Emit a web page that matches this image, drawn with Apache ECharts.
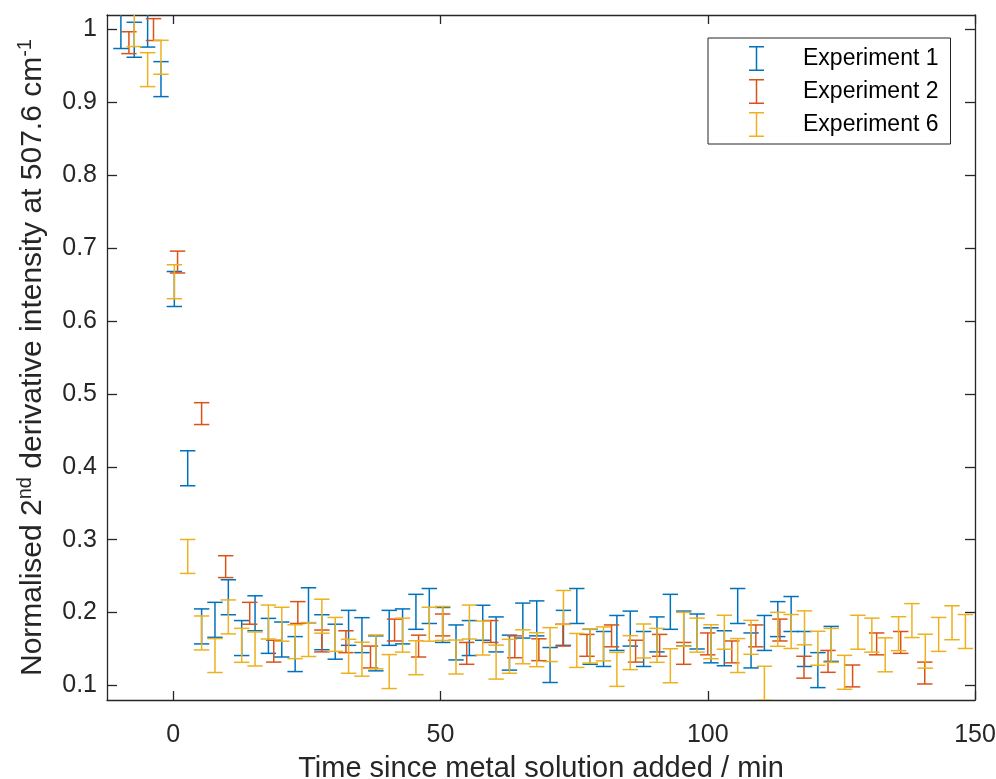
<!DOCTYPE html>
<html>
<head>
<meta charset="utf-8">
<script src="https://cdn.jsdelivr.net/npm/echarts@6/dist/echarts.min.js"></script>
<style>
  html, body { margin: 0; padding: 0; background: #fff; }
  #chart { width: 996px; height: 779px; }
</style>
</head>
<body>
<div id="chart"></div>
<script>
// Experiment 1 (minutes since metal solution added, normalised intensity, error half-width)
const exp1Time = [-9.8, -7.3, -4.8, -2.3, 0.2, 2.7, 5.3, 7.8, 10.3, 12.8, 15.3, 17.8, 20.3, 22.8, 25.3, 27.8, 30.3, 32.8, 35.3, 37.9,
  40.4, 42.9, 45.4, 47.9, 50.4, 52.9, 55.4, 57.9, 60.4, 62.9, 65.4, 68.0, 70.5, 73.0, 75.5, 78.0, 80.5, 83.0, 85.5, 88.0,
  90.5, 93.0, 95.5, 98.0, 100.6, 103.1, 105.6, 108.1, 110.6, 113.1, 115.6, 118.1, 120.6, 123.1];
const exp1Mean = [0.998, 0.986, 1.000, 0.932, 0.644, 0.398, 0.181, 0.190, 0.221, 0.165, 0.199, 0.168, 0.163, 0.143, 0.210, 0.173, 0.160, 0.179, 0.169, 0.144,
  0.179, 0.181, 0.201, 0.209, 0.183, 0.159, 0.165, 0.186, 0.170, 0.145, 0.189, 0.192, 0.128, 0.179, 0.209, 0.153, 0.150, 0.172, 0.178, 0.150,
  0.170, 0.201, 0.178, 0.174, 0.155, 0.151, 0.209, 0.148, 0.172, 0.191, 0.198, 0.150, 0.121, 0.157];
const exp1Err = 0.024;

// Experiment 2
const exp2Time = [-8.3, -3.7, 0.8, 5.3, 9.8, 14.3, 18.8, 23.3, 27.8, 32.3, 36.9, 41.4, 45.9, 50.4, 54.9, 59.4, 63.9,
  68.4, 72.9, 77.4, 82.0, 86.5, 91.0, 95.5, 100.0, 104.5, 109.0, 113.5, 118.0, 122.5, 127.1, 131.6, 136.1, 140.6];
const exp2Mean = [0.982, 1.000, 0.681, 0.473, 0.263, 0.199, 0.147, 0.200, 0.161, 0.160, 0.139, 0.176, 0.154, 0.183, 0.144, 0.174, 0.153,
  0.149, 0.169, 0.155, 0.168, 0.147, 0.155, 0.144, 0.157, 0.146, 0.168, 0.176, 0.125, 0.133, 0.113, 0.157, 0.159, 0.117];
const exp2Err = 0.015;

// Experiment 6
const exp6Time = [-7.3, -4.8, -2.3, 0.2, 2.7, 5.3, 7.8, 10.3, 12.8, 15.3, 17.8, 20.3, 22.8, 25.3, 27.8, 30.3, 32.8, 35.3, 37.9,
  40.4, 42.9, 45.4, 47.9, 50.4, 52.9, 55.4, 57.9, 60.4, 62.9, 65.4, 68.0, 70.5, 73.0, 75.5, 78.0, 80.5, 83.0, 85.5, 88.0,
  90.5, 93.0, 95.5, 98.0, 100.6, 103.1, 105.6, 108.1, 110.6, 113.1, 115.6, 118.1, 120.6, 123.1,
  125.6, 128.1, 130.7, 133.2, 135.7, 138.2, 140.7, 143.2, 145.7, 148.2];
const exp6Mean = [1.000, 0.945, 0.962, 0.654, 0.277, 0.172, 0.141, 0.194, 0.155, 0.150, 0.187, 0.184, 0.160, 0.163, 0.195, 0.170, 0.140, 0.136, 0.146,
  0.119, 0.169, 0.138, 0.184, 0.185, 0.139, 0.187, 0.165, 0.132, 0.140, 0.153, 0.149, 0.156, 0.207, 0.148, 0.154, 0.157, 0.122, 0.145, 0.161,
  0.155, 0.127, 0.177, 0.169, 0.160, 0.173, 0.141, 0.166, 0.103, 0.177, 0.174, 0.179, 0.151, 0.155,
  0.118, 0.173, 0.169, 0.142, 0.171, 0.189, 0.147, 0.170, 0.186, 0.174];
const exp6Err = 0.0233;

const seriesNames = ['Experiment 1', 'Experiment 2', 'Experiment 6'];
const xTicks = [0, 50, 100, 150];
const yTicks = [0.1, 0.2, 0.3, 0.4, 0.5, 0.6, 0.7, 0.8, 0.9, 1];

const AXIS = '#262626';
const FONT = '"Liberation Sans", Arial, Helvetica, sans-serif';
const COLORS = ['#0072BD', '#D95319', '#EDB120'];
const CAP_HALF = 7.7;
// I-beam glyph used as the legend marker
const IBEAM = 'path://M0,0H15V1.5H8.25V23.5H15V25H0V23.5H6.75V1.5H0Z';

function errorBarSeries(name, color, times, means, err) {
  return {
    name: name,
    type: 'custom',
    clip: true,
    itemStyle: { color: color },
    encode: { x: 0, y: 1 },
    data: times.map((t, i) => [t, means[i], err]),
    renderItem: function (params, api) {
      const x = api.value(0), y = api.value(1), e = api.value(2);
      const hi = api.coord([x, y + e]);
      const lo = api.coord([x, y - e]);
      const style = { stroke: color, lineWidth: 1.5, fill: null };
      return {
        type: 'group',
        children: [
          { type: 'line', shape: { x1: hi[0], y1: hi[1], x2: lo[0], y2: lo[1] }, style: style },
          { type: 'line', shape: { x1: hi[0] - CAP_HALF, y1: hi[1], x2: hi[0] + CAP_HALF, y2: hi[1] }, style: style },
          { type: 'line', shape: { x1: lo[0] - CAP_HALF, y1: lo[1], x2: lo[0] + CAP_HALF, y2: lo[1] }, style: style }
        ]
      };
    }
  };
}

const axisLine = { show: true, onZero: false, lineStyle: { color: AXIS, width: 1.3 } };
const tickStyle = { color: AXIS, width: 1.3 };
const labelStyle = { fontFamily: FONT, fontSize: 25, color: AXIS };

const chart = echarts.init(document.getElementById('chart'), null, { renderer: 'canvas' });
chart.setOption({
  animation: false,
  backgroundColor: '#fff',
  grid: { left: 107, right: 21, top: 15, bottom: 79, containLabel: false, outerBoundsMode: 'none' },
  xAxis: [
    {
      type: 'value', min: -12.4, max: 150, position: 'bottom',
      name: 'Time since metal solution added / min',
      nameLocation: 'middle', nameGap: 54,
      nameTextStyle: { fontFamily: FONT, fontSize: 29, color: AXIS },
      axisLine: axisLine,
      axisTick: { show: true, inside: true, length: 9, customValues: xTicks, lineStyle: tickStyle },
      axisLabel: Object.assign({ customValues: xTicks, margin: 23 }, labelStyle),
      splitLine: { show: false }
    },
    {
      type: 'value', min: -12.4, max: 150, position: 'top',
      axisLine: axisLine,
      axisTick: { show: true, inside: true, length: 9, customValues: xTicks, lineStyle: tickStyle },
      axisLabel: { show: false },
      splitLine: { show: false }
    }
  ],
  yAxis: [
    {
      type: 'value', min: 0.08, max: 1.02, position: 'left',
      name: '{m|Normalised 2}{s|nd}{m| derivative intensity at 507.6 cm}{s|-1}',
      nameLocation: 'middle', nameGap: 56, nameRotate: 90,
      nameTextStyle: {
        color: AXIS,
        rich: {
          m: { fontFamily: FONT, fontSize: 30, color: AXIS, lineHeight: 36 },
          s: { fontFamily: FONT, fontSize: 20, color: AXIS, verticalAlign: 'top', lineHeight: 23 }
        }
      },
      axisLine: axisLine,
      axisTick: { show: true, inside: true, length: 10, customValues: yTicks, lineStyle: tickStyle },
      axisLabel: Object.assign({
        customValues: yTicks, margin: 10,
        formatter: function (v) { return String(+(+v).toFixed(2)); }
      }, labelStyle),
      splitLine: { show: false }
    },
    {
      type: 'value', min: 0.08, max: 1.02, position: 'right',
      axisLine: axisLine,
      axisTick: { show: true, inside: true, length: 10, customValues: yTicks, lineStyle: tickStyle },
      axisLabel: { show: false },
      splitLine: { show: false }
    }
  ],
  legend: {
    orient: 'vertical', left: 708, top: 38,
    padding: [8, 12, 7, 41],
    itemWidth: 15, itemHeight: 25, itemGap: 8,
    borderColor: AXIS, borderWidth: 1, backgroundColor: '#fff',
    textStyle: { fontFamily: FONT, fontSize: 23, color: '#000', padding: [0, 0, 0, 34] },
    data: seriesNames.map(n => ({ name: n, icon: IBEAM }))
  },
  series: [
    errorBarSeries(seriesNames[0], COLORS[0], exp1Time, exp1Mean, exp1Err),
    errorBarSeries(seriesNames[1], COLORS[1], exp2Time, exp2Mean, exp2Err),
    errorBarSeries(seriesNames[2], COLORS[2], exp6Time, exp6Mean, exp6Err)
  ]
});
</script>
</body>
</html>
